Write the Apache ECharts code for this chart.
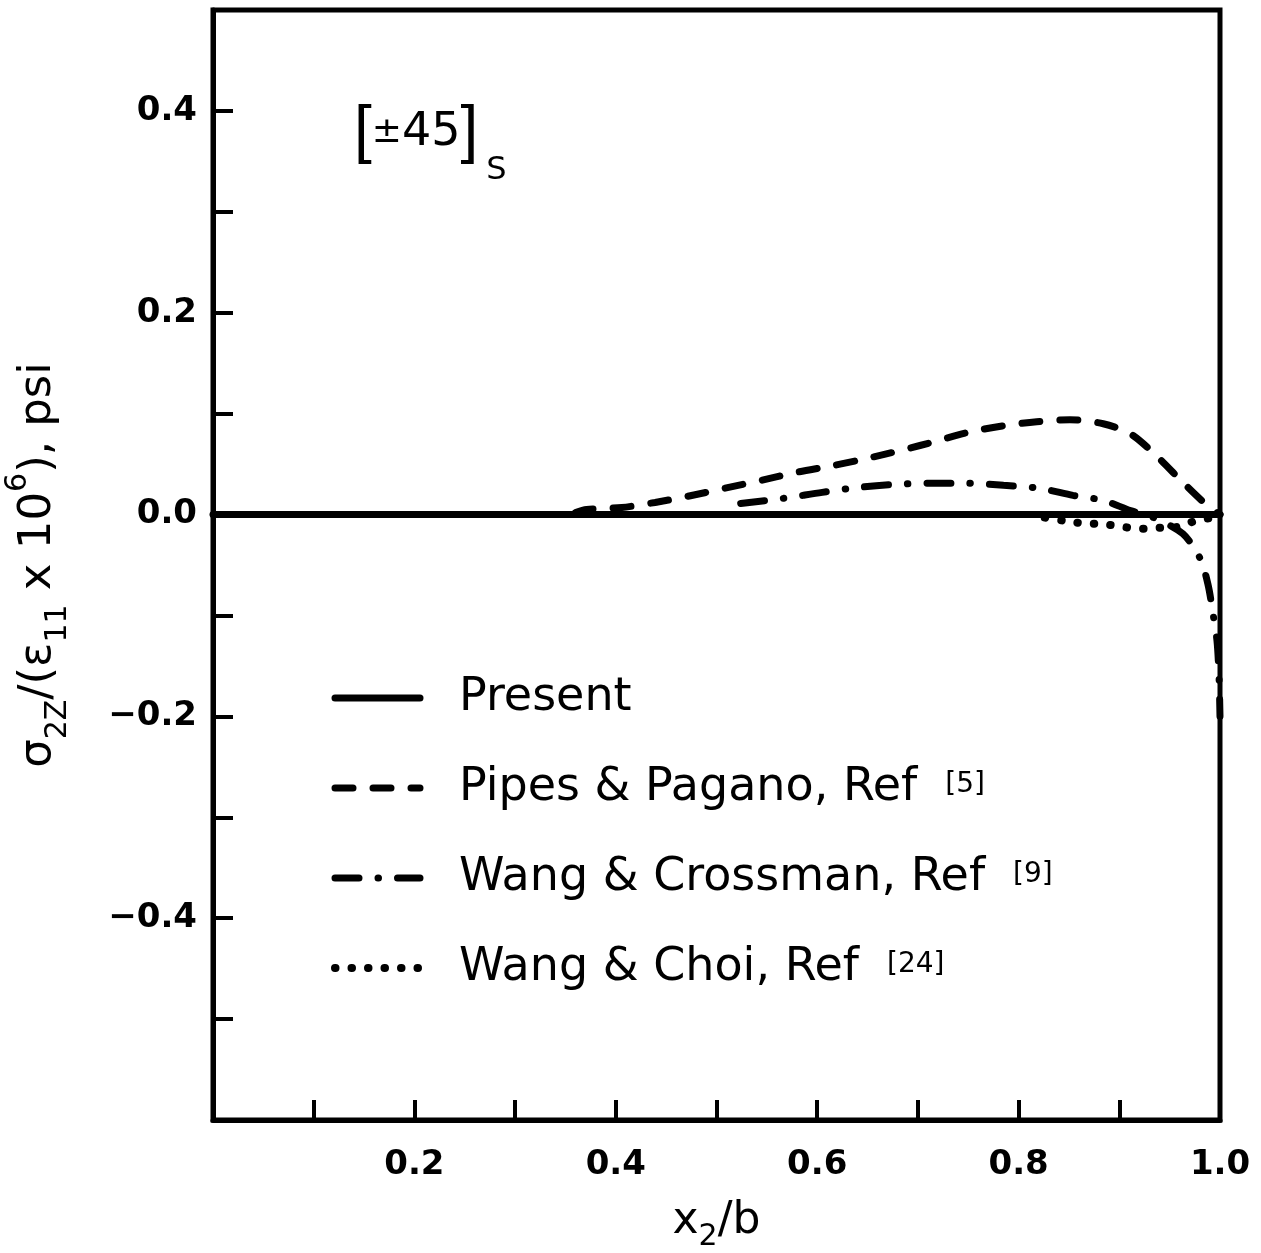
<!DOCTYPE html>
<html>
<head>
<meta charset="utf-8">
<title>Interlaminar normal stress, [±45]s laminate</title>
<script src="https://cdn.jsdelivr.net/npm/echarts@6/dist/echarts.min.js"></script>
<style>
  html, body { margin: 0; padding: 0; background: #fff; }
  #chart { width: 1261px; height: 1253px; }
</style>
</head>
<body>
<div id="chart"></div>
<script>
// Normalised position across the laminate half-width
const presentX = [0.0, 1.0];
const presentY = [0.0, 0.0];

const pipesX = [0.36, 0.371, 0.406, 0.439, 0.471, 0.508, 0.545, 0.58, 0.613, 0.642, 0.685, 0.719, 0.752, 0.785, 0.818, 0.851, 0.884, 0.911, 0.936, 0.963, 0.984, 1.0];
const pipesY = [0.002, 0.005, 0.007, 0.012, 0.018, 0.026, 0.034, 0.042, 0.048, 0.054, 0.064, 0.073, 0.082, 0.088, 0.092, 0.094, 0.090, 0.080, 0.059, 0.032, 0.012, 0.0];

const crossmanX = [0.524, 0.566, 0.605, 0.642, 0.679, 0.715, 0.75, 0.785, 0.821, 0.854, 0.884, 0.911, 0.934, 0.963, 0.98, 0.988, 0.993, 0.997, 0.999, 1.0];
const crossmanY = [0.011, 0.016, 0.022, 0.027, 0.030, 0.031, 0.031, 0.029, 0.026, 0.019, 0.014, 0.004, -0.003, -0.019, -0.043, -0.069, -0.098, -0.125, -0.16, -0.2];

const choiX = [0.826, 0.844, 0.858, 0.874, 0.888, 0.903, 0.916, 0.929, 0.943, 0.953, 0.967, 0.98, 0.993, 1.0];
const choiY = [-0.003, -0.006, -0.008, -0.009, -0.010, -0.012, -0.014, -0.014, -0.013, -0.013, -0.009, -0.005, -0.003, 0.0];

const seriesNames = ['Present', 'Pipes & Pagano, Ref', 'Wang & Crossman, Ref', 'Wang & Choi, Ref'];
const seriesRefs = ['', '[5]', '[9]', '[24]'];

const xTickLabels = ['0.2', '0.4', '0.6', '0.8', '1.0'];
const yTickLabels = ['0.4', '0.2', '0.0', '-0.2', '-0.4'];

const FONT = '"DejaVu Sans", "Noto Sans", sans-serif';
const BRACKET_FONT = '"Liberation Sans", "DejaVu Sans", sans-serif';

// Line styles shared by the curves and their legend samples
const styles = [
  { color: '#000', width: 7, type: 'solid', cap: 'round' },
  { color: '#000', width: 7, type: [18, 20], cap: 'round' },
  { color: '#000', width: 7, type: [24, 19, 0.5, 19], cap: 'round' },
  { color: '#000', width: 8, type: [0.5, 16], cap: 'round' }
];

function pairs(xs, ys) { return xs.map((x, i) => [x, ys[i]]); }

const chart = echarts.init(document.getElementById('chart'), null, { renderer: 'canvas' });

const option = {
  backgroundColor: '#fff',
  animation: false,
  textStyle: { fontFamily: FONT, color: '#000' },
  title: {
    left: 349,
    top: 74,
    text: '{b|[}{p|±}{t|45}{b|]}{s|S}',
    textStyle: {
      fontWeight: 'normal',
      rich: {
        b: { fontFamily: BRACKET_FONT, fontSize: 64, fontWeight: 'normal', color: '#000', verticalAlign: 'middle', lineHeight: 108 },
        p: { fontFamily: FONT, fontSize: 36, fontWeight: 'normal', color: '#000', verticalAlign: 'middle', lineHeight: 108 },
        t: { fontFamily: FONT, fontSize: 46, fontWeight: 'normal', color: '#000', verticalAlign: 'middle', lineHeight: 108 },
        s: { fontFamily: FONT, fontSize: 32, fontWeight: 'normal', color: '#000', verticalAlign: 'bottom', padding: [0, 0, 0, 8] }
      }
    }
  },
  grid: {
    left: 213, right: 41, top: 10, bottom: 133,
    outerBoundsMode: 'none',
    containLabel: false,
    show: true, borderColor: '#000', borderWidth: 5, backgroundColor: 'transparent'
  },
  legend: {
    orient: 'vertical',
    left: 326,
    top: 670,
    itemWidth: 85,
    itemHeight: 20,
    itemGap: 44,
    selectedMode: false,
    data: seriesNames.map((n, i) => ({
      name: n,
      itemStyle: { opacity: 0 },
      lineStyle: Object.assign({}, styles[i])
    })),
    formatter: function (name) {
      const i = seriesNames.indexOf(name);
      return seriesRefs[i] ? '{n|' + name + '}{r|' + seriesRefs[i] + '}' : '{n|' + name + '}';
    },
    textStyle: {
      padding: [0, 0, 0, 34],
      rich: {
        n: { fontFamily: FONT, fontSize: 46, color: '#000', lineHeight: 48 },
        r: { fontFamily: FONT, fontSize: 28, color: '#000', padding: [0, 0, 6, 28] }
      }
    }
  },
  xAxis: {
    type: 'value',
    min: 0, max: 1, interval: 0.1,
    name: '{t|x}{s|2}{t|/b}',
    nameLocation: 'middle',
    nameGap: 72,
    nameTextStyle: {
      rich: {
        t: { fontFamily: FONT, fontSize: 44, color: '#000', lineHeight: 60, verticalAlign: 'middle' },
        s: { fontFamily: FONT, fontSize: 30, color: '#000', lineHeight: 60, verticalAlign: 'bottom' }
      }
    },
    axisLine: { show: true, onZero: false, lineStyle: { color: '#000', width: 5 } },
    axisTick: { show: true, inside: true, length: 20, lineStyle: { color: '#000', width: 4 } },
    splitLine: { show: false },
    axisLabel: {
      margin: 28,
      fontFamily: FONT, fontSize: 34, fontWeight: 'bold', color: '#000',
      formatter: function (v) {
        const s = (Math.round(v * 10) / 10).toFixed(1);
        return xTickLabels.indexOf(s) >= 0 ? s : '';
      }
    }
  },
  yAxis: {
    type: 'value',
    min: -0.6, max: 0.5, interval: 0.1,
    name: '{t|σ}{s|2Z}{t|/(ε}{s|11}{t| x 10}{p|6}{t|), psi}',
    nameLocation: 'middle',
    nameGap: 140,
    nameRotate: 90,
    nameTextStyle: {
      rich: {
        t: { fontFamily: FONT, fontSize: 45, color: '#000', lineHeight: 70, verticalAlign: 'middle' },
        s: { fontFamily: FONT, fontSize: 30, color: '#000', lineHeight: 70, verticalAlign: 'bottom' },
        p: { fontFamily: FONT, fontSize: 30, color: '#000', lineHeight: 70, verticalAlign: 'top' }
      }
    },
    axisLine: { show: true, onZero: false, lineStyle: { color: '#000', width: 5 } },
    axisTick: { show: true, inside: true, length: 20, lineStyle: { color: '#000', width: 4 } },
    splitLine: { show: false },
    axisLabel: {
      margin: 16,
      fontFamily: FONT, fontSize: 34, fontWeight: 'bold', color: '#000',
      formatter: function (v) {
        const s = (Math.round(v * 10) / 10).toFixed(1).replace('-0.0', '0.0');
        return yTickLabels.indexOf(s) >= 0 ? s.replace('-', '−') : '';
      }
    }
  },
  series: [
    {
      name: seriesNames[0], type: 'line', data: pairs(presentX, presentY),
      symbol: 'none', z: 5, lineStyle: styles[0]
    },
    {
      name: seriesNames[1], type: 'line', data: pairs(pipesX, pipesY),
      symbol: 'none', smooth: 0.3, lineStyle: styles[1]
    },
    {
      name: seriesNames[2], type: 'line', data: pairs(crossmanX, crossmanY),
      symbol: 'none', smooth: 0.3, lineStyle: styles[2]
    },
    {
      name: seriesNames[3], type: 'line', data: pairs(choiX, choiY),
      symbol: 'none', smooth: 0.3, lineStyle: styles[3]
    }
  ]
};

chart.setOption(option);
</script>
</body>
</html>
